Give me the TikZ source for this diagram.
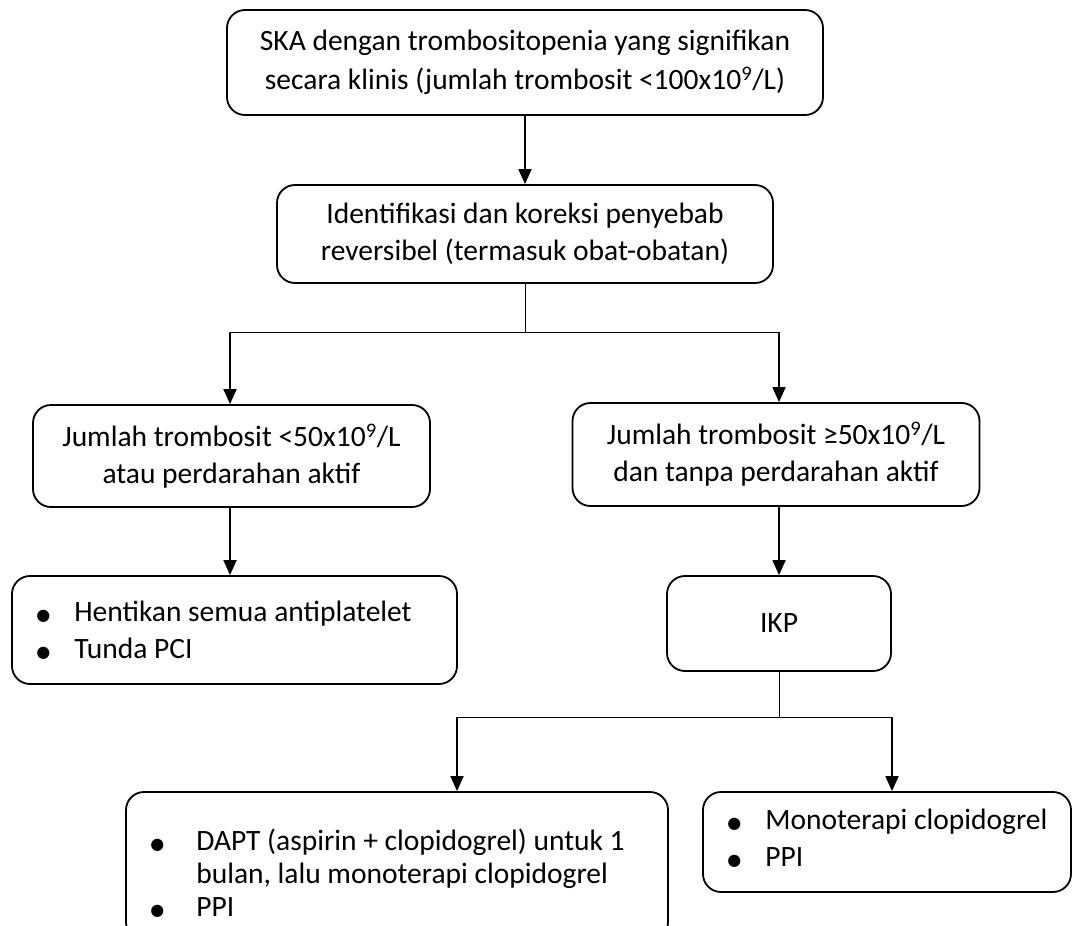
\documentclass[tikz,border=0pt]{standalone}
\usepackage{fontspec}
\setmainfont{Carlito}
\newfontfamily\dejavu{DejaVu Sans}
\usetikzlibrary{arrows.meta}
\newcommand\mainsize{\fontsize{29.5}{37}\selectfont}
\newcommand\tightsize{\fontsize{29.5}{33}\selectfont}
\newcommand\bulw[1]{\makebox[#1][l]{\raisebox{1pt}{\dejavu\fontsize{16}{16}\selectfont ●}}}
\newcommand\bul{\bulw{38pt}}
\begin{document}
\begin{tikzpicture}[x=1pt,y=-1pt,
  box/.style={draw, line width=1.8pt, rounded corners=18pt, inner sep=0pt, align=center, font=\mainsize},
  listtext/.style={anchor=west, align=left, inner sep=0pt, font=\mainsize},
  arr/.style={line width=1.8pt, -{Triangle[length=15pt,width=13pt]}},
  thinln/.style={line width=1pt}]
\useasboundingbox (0,0) rectangle (1074,926);
\fill[white] (0,0) rectangle (1074,926);

\node[box, minimum width=596pt, minimum height=105pt] (b1) at (525,62.5)
  {SKA dengan trombositopenia yang signifikan\\[2pt]secara klinis (jumlah trombosit <100x10\textsuperscript{9}/L)};
\node[box, minimum width=496pt, minimum height=98pt] (b2) at (525,234)
  {Identifikasi dan koreksi penyebab\\reversibel (termasuk obat-obatan)};
\node[box, minimum width=397pt, minimum height=102pt] (b3l) at (231.5,456)
  {Jumlah trombosit <50x10\textsuperscript{9}/L\\atau perdarahan aktif};
\node[box, minimum width=407pt, minimum height=103pt] (b3r) at (776,454.5)
  {Jumlah trombosit ≥50x10\textsuperscript{9}/L\\dan tanpa perdarahan aktif};
\node[box, minimum width=224pt, minimum height=95pt] (ikp) at (779,623.5) {IKP};
\node[box, minimum width=445pt, minimum height=108pt] (b4l) at (234.5,630) {};
\node[box, minimum width=542pt, minimum height=148pt] (b5l) at (397,866) {};
\node[box, minimum width=368pt, minimum height=100pt] (b5r) at (887,842) {};

\node[listtext, xshift=25pt] (t4l) at (b4l.west)
  {\bul Hentikan semua antiplatelet\\\bul Tunda PCI};
\node[listtext, font=\tightsize, xshift=25pt, yshift=-7pt] (t5l) at (b5l.west)
  {\bulw{46pt}DAPT (aspirin + clopidogrel) untuk 1\\\hspace*{46pt}bulan, lalu monoterapi clopidogrel\\\bulw{46pt}PPI};
\node[listtext, xshift=25pt, yshift=4pt] (t5r) at (b5r.west)
  {\bul Monoterapi clopidogrel\\\bul PPI};

\coordinate (j1) at (525,332);
\coordinate (jl) at (230,332);
\coordinate (jr) at (779,332);
\coordinate (j2) at (779,717);
\coordinate (kl) at (457,717);
\coordinate (kr) at (892,717);

\draw[arr] (b1.south) -- (b2.north);
\draw[thinln] (b2.south) -- (j1);
\draw[thinln] (jl) -- (jr);
\draw[arr] (jl) -- (jl |- b3l.north);
\draw[arr] (jr) -- (jr |- b3r.north);
\draw[arr] (jl |- b3l.south) -- (jl |- b4l.north);
\draw[arr] (ikp.north |- b3r.south) -- (ikp.north);
\draw[thinln] (ikp.south) -- (j2);
\draw[thinln] (kl) -- (kr);
\draw[arr] (kl) -- (kl |- b5l.north);
\draw[arr] (kr) -- (kr |- b5r.north);
\end{tikzpicture}
\end{document}
